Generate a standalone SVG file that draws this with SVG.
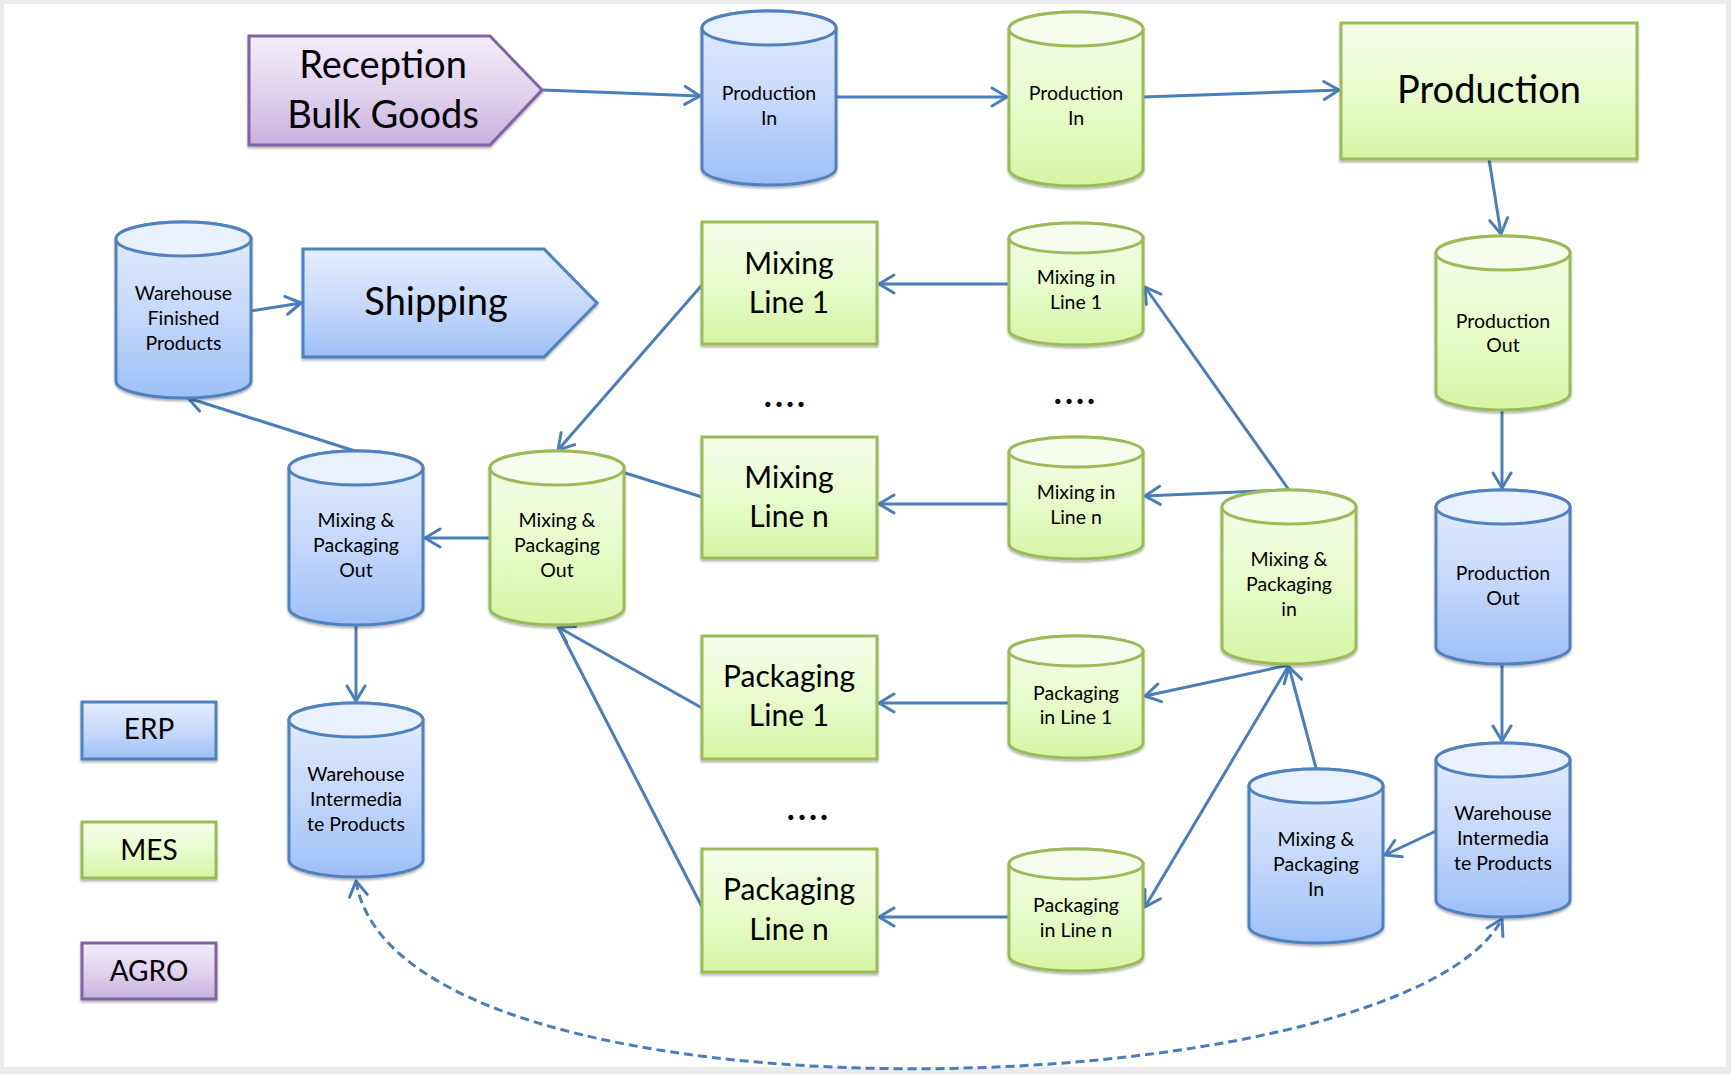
<svg xmlns="http://www.w3.org/2000/svg" width="1731" height="1074" viewBox="0 0 1731 1074">
<defs>
<linearGradient id="gB" x1="0" y1="0" x2="0" y2="1"><stop offset="0" stop-color="#e3edfd"/><stop offset="0.5" stop-color="#c7dafb"/><stop offset="1" stop-color="#9dbff7"/></linearGradient>
<linearGradient id="gG" x1="0" y1="0" x2="0" y2="1"><stop offset="0" stop-color="#f6fdec"/><stop offset="0.5" stop-color="#e8fbcd"/><stop offset="1" stop-color="#d6f5a4"/></linearGradient>
<linearGradient id="gP" x1="0" y1="0" x2="0" y2="1"><stop offset="0" stop-color="#f3edf9"/><stop offset="0.5" stop-color="#e1d3ee"/><stop offset="1" stop-color="#c8b1e0"/></linearGradient>
<filter id="sh" x="-10%" y="-10%" width="120%" height="125%"><feDropShadow dx="0" dy="2" stdDeviation="1" flood-color="#000" flood-opacity="0.3"/></filter>
<marker id="ar" markerUnits="userSpaceOnUse" markerWidth="20" markerHeight="22" refX="0" refY="0" viewBox="-17 -11 19 22" orient="auto-start-reverse"><path d="M-15,-9 L0,0 L-15,9" fill="none" stroke="#4a7ebb" stroke-width="3" stroke-linejoin="round" stroke-linecap="round"/></marker>
<style>
text{font-family:Lato,"Open Sans","Liberation Sans",sans-serif;fill:#000;text-anchor:middle}
.s{font-size:19.5px}
.m{font-size:30px}
.l{font-size:38px}
.lg{font-size:28px}
.d{font-size:34px;font-weight:bold;letter-spacing:3px}
.B{fill:url(#gB);stroke:#4f81bd;stroke-width:3;filter:url(#sh)}
.G{fill:url(#gG);stroke:#9bbb59;stroke-width:3;filter:url(#sh)}
.P{fill:url(#gP);stroke:#8064a2;stroke-width:3;filter:url(#sh)}
.Bt{fill:#eaf1fe;stroke:#4f81bd;stroke-width:3}
.Gt{fill:#f6fdee;stroke:#9bbb59;stroke-width:3}
.c{fill:none;stroke:#4a7ebb;stroke-width:3;marker-end:url(#ar)}
.n{fill:none;stroke:#4a7ebb;stroke-width:3}
.dash{fill:none;stroke:#4a7ebb;stroke-width:3;stroke-dasharray:9 5;marker-start:url(#ar);marker-end:url(#ar)}
</style>
</defs>
<rect x="0" y="0" width="1731" height="1074" fill="#ebebeb"/>
<rect x="4" y="4" width="1722" height="1063" fill="#ffffff"/>

<g id="connectors">
<path class="c" d="M543,90 L700,96"/>
<path class="c" d="M836,97 L1007,97"/>
<path class="c" d="M1143,97 L1339,90"/>
<path class="c" d="M1489,159 L1501,234"/>
<path class="c" d="M1502,410 L1502,488"/>
<path class="c" d="M1502,665 L1502,741"/>
<path class="c" d="M1436,831 L1385,855"/>
<path class="c" d="M1316,768 L1289,667"/>
<path class="c" d="M1289,490 L1145,287"/>
<path class="c" d="M1286,490 L1145,496"/>
<path class="c" d="M1289,665 L1145,696"/>
<path class="c" d="M1289,665 L1145,907"/>
<path class="c" d="M1009,284 L879,284"/>
<path class="c" d="M1009,504 L879,504"/>
<path class="c" d="M1009,703 L879,703"/>
<path class="c" d="M1009,917 L879,917"/>
<path class="c" d="M702,285 L558,450"/>
<path class="n" d="M702,497 L558,452"/>
<path class="c" d="M702,708 L558,627"/>
<path class="n" d="M702,907 L558,627"/>
<path class="c" d="M490,538 L425,538"/>
<path class="c" d="M355,451 L188,398"/>
<path class="c" d="M356,624 L356,701"/>
<path class="c" d="M251,311 L301,303"/>
<path class="dash" d="M356,881 C398,1140 1400,1110 1502,919"/>
</g>

<g id="reception-bulk-goods">
<path class="P" d="M249,36 H490 L542,90 L490,145 H249 Z"/>
<text class="l" x="383" y="78">Reception</text>
<text class="l" x="383" y="128">Bulk Goods</text>
</g>

<g id="shipping">
<path class="B" d="M303,249 H544 L597,303 L544,357 H303 Z"/>
<text class="l" x="436" y="315">Shipping</text>
</g>

<g id="production-in-erp" transform="translate(702,11)">
<path class="B" d="M0,17 A67,17 0 0 1 134,17 V157 A67,17 0 0 1 0,157 Z"/>
<ellipse class="Bt" cx="67" cy="17" rx="67" ry="17"/>
<text class="s" x="67" y="89">Production</text>
<text class="s" x="67" y="114">In</text>
</g>

<g id="production-in-mes" transform="translate(1009,12)">
<path class="G" d="M0,17 A67,17 0 0 1 134,17 V157 A67,17 0 0 1 0,157 Z"/>
<ellipse class="Gt" cx="67" cy="17" rx="67" ry="17"/>
<text class="s" x="67" y="88">Production</text>
<text class="s" x="67" y="113">In</text>
</g>

<g id="production">
<rect class="G" x="1341" y="23" width="296" height="136"/>
<text class="l" x="1489" y="103">Production</text>
</g>

<g id="production-out-mes" transform="translate(1436,236)">
<path class="G" d="M0,17 A67,17 0 0 1 134,17 V157 A67,17 0 0 1 0,157 Z"/>
<ellipse class="Gt" cx="67" cy="17" rx="67" ry="17"/>
<text class="s" x="67" y="92">Production</text>
<text class="s" x="67" y="116">Out</text>
</g>

<g id="production-out-erp" transform="translate(1436,490)">
<path class="B" d="M0,17 A67,17 0 0 1 134,17 V157 A67,17 0 0 1 0,157 Z"/>
<ellipse class="Bt" cx="67" cy="17" rx="67" ry="17"/>
<text class="s" x="67" y="90">Production</text>
<text class="s" x="67" y="115">Out</text>
</g>

<g id="warehouse-intermediate-right" transform="translate(1436,743)">
<path class="B" d="M0,17 A67,17 0 0 1 134,17 V157 A67,17 0 0 1 0,157 Z"/>
<ellipse class="Bt" cx="67" cy="17" rx="67" ry="17"/>
<text class="s" x="67" y="77">Warehouse</text>
<text class="s" x="67" y="102">Intermedia</text>
<text class="s" x="67" y="127">te Products</text>
</g>

<g id="mixing-packaging-in-erp" transform="translate(1249,769)">
<path class="B" d="M0,17 A67,17 0 0 1 134,17 V157 A67,17 0 0 1 0,157 Z"/>
<ellipse class="Bt" cx="67" cy="17" rx="67" ry="17"/>
<text class="s" x="67" y="77">Mixing &amp;</text>
<text class="s" x="67" y="102">Packaging</text>
<text class="s" x="67" y="127">In</text>
</g>

<g id="mixing-packaging-in-mes" transform="translate(1222,490)">
<path class="G" d="M0,17 A67,17 0 0 1 134,17 V157 A67,17 0 0 1 0,157 Z"/>
<ellipse class="Gt" cx="67" cy="17" rx="67" ry="17"/>
<text class="s" x="67" y="76">Mixing &amp;</text>
<text class="s" x="67" y="101">Packaging</text>
<text class="s" x="67" y="126">in</text>
</g>

<g id="mixing-in-line-1" transform="translate(1009,223)">
<path class="G" d="M0,15 A67,15 0 0 1 134,15 V107 A67,15 0 0 1 0,107 Z"/>
<ellipse class="Gt" cx="67" cy="15" rx="67" ry="15"/>
<text class="s" x="67" y="61">Mixing in</text>
<text class="s" x="67" y="86">Line 1</text>
</g>

<g id="mixing-in-line-n" transform="translate(1009,437)">
<path class="G" d="M0,15 A67,15 0 0 1 134,15 V107 A67,15 0 0 1 0,107 Z"/>
<ellipse class="Gt" cx="67" cy="15" rx="67" ry="15"/>
<text class="s" x="67" y="62">Mixing in</text>
<text class="s" x="67" y="87">Line n</text>
</g>

<g id="packaging-in-line-1" transform="translate(1009,636)">
<path class="G" d="M0,15 A67,15 0 0 1 134,15 V107 A67,15 0 0 1 0,107 Z"/>
<ellipse class="Gt" cx="67" cy="15" rx="67" ry="15"/>
<text class="s" x="67" y="64">Packaging</text>
<text class="s" x="67" y="88">in Line 1</text>
</g>

<g id="packaging-in-line-n" transform="translate(1009,849)">
<path class="G" d="M0,15 A67,15 0 0 1 134,15 V107 A67,15 0 0 1 0,107 Z"/>
<ellipse class="Gt" cx="67" cy="15" rx="67" ry="15"/>
<text class="s" x="67" y="63">Packaging</text>
<text class="s" x="67" y="88">in Line n</text>
</g>

<g id="mixing-line-1">
<rect class="G" x="702" y="222" width="175" height="122"/>
<text class="m" x="789" y="274">Mixing</text>
<text class="m" x="789" y="313">Line 1</text>
</g>

<g id="mixing-line-n">
<rect class="G" x="702" y="437" width="175" height="121"/>
<text class="m" x="789" y="488">Mixing</text>
<text class="m" x="789" y="527">Line n</text>
</g>

<g id="packaging-line-1">
<rect class="G" x="702" y="636" width="175" height="123"/>
<text class="m" x="789" y="687">Packaging</text>
<text class="m" x="789" y="726">Line 1</text>
</g>

<g id="packaging-line-n">
<rect class="G" x="702" y="849" width="175" height="123"/>
<text class="m" x="789" y="900">Packaging</text>
<text class="m" x="789" y="940">Line n</text>
</g>

<g id="ellipsis-1"><text class="d" x="786" y="407">....</text></g>
<g id="ellipsis-2"><text class="d" x="1076" y="404">....</text></g>
<g id="ellipsis-3"><text class="d" x="809" y="820">....</text></g>

<g id="mixing-packaging-out-mes" transform="translate(490,451)">
<path class="G" d="M0,17 A67,17 0 0 1 134,17 V157 A67,17 0 0 1 0,157 Z"/>
<ellipse class="Gt" cx="67" cy="17" rx="67" ry="17"/>
<text class="s" x="67" y="76">Mixing &amp;</text>
<text class="s" x="67" y="101">Packaging</text>
<text class="s" x="67" y="126">Out</text>
</g>

<g id="mixing-packaging-out-erp" transform="translate(289,451)">
<path class="B" d="M0,17 A67,17 0 0 1 134,17 V157 A67,17 0 0 1 0,157 Z"/>
<ellipse class="Bt" cx="67" cy="17" rx="67" ry="17"/>
<text class="s" x="67" y="76">Mixing &amp;</text>
<text class="s" x="67" y="101">Packaging</text>
<text class="s" x="67" y="126">Out</text>
</g>

<g id="warehouse-intermediate-left" transform="translate(289,703)">
<path class="B" d="M0,17 A67,17 0 0 1 134,17 V157 A67,17 0 0 1 0,157 Z"/>
<ellipse class="Bt" cx="67" cy="17" rx="67" ry="17"/>
<text class="s" x="67" y="78">Warehouse</text>
<text class="s" x="67" y="103">Intermedia</text>
<text class="s" x="67" y="128">te Products</text>
</g>

<g id="warehouse-finished-products" transform="translate(116,222)">
<path class="B" d="M0,17 A67.5,17 0 0 1 135,17 V159 A67.5,17 0 0 1 0,159 Z"/>
<ellipse class="Bt" cx="67.5" cy="17" rx="67.5" ry="17"/>
<text class="s" x="67.5" y="78">Warehouse</text>
<text class="s" x="67.5" y="103">Finished</text>
<text class="s" x="67.5" y="128">Products</text>
</g>

<g id="legend-erp">
<rect class="B" x="82" y="702" width="134" height="57"/>
<text class="lg" x="149" y="739">ERP</text>
</g>
<g id="legend-mes">
<rect class="G" x="82" y="822" width="134" height="56"/>
<text class="lg" x="149" y="860">MES</text>
</g>
<g id="legend-agro">
<rect class="P" x="82" y="943" width="134" height="56"/>
<text class="lg" x="149" y="981">AGRO</text>
</g>
</svg>
